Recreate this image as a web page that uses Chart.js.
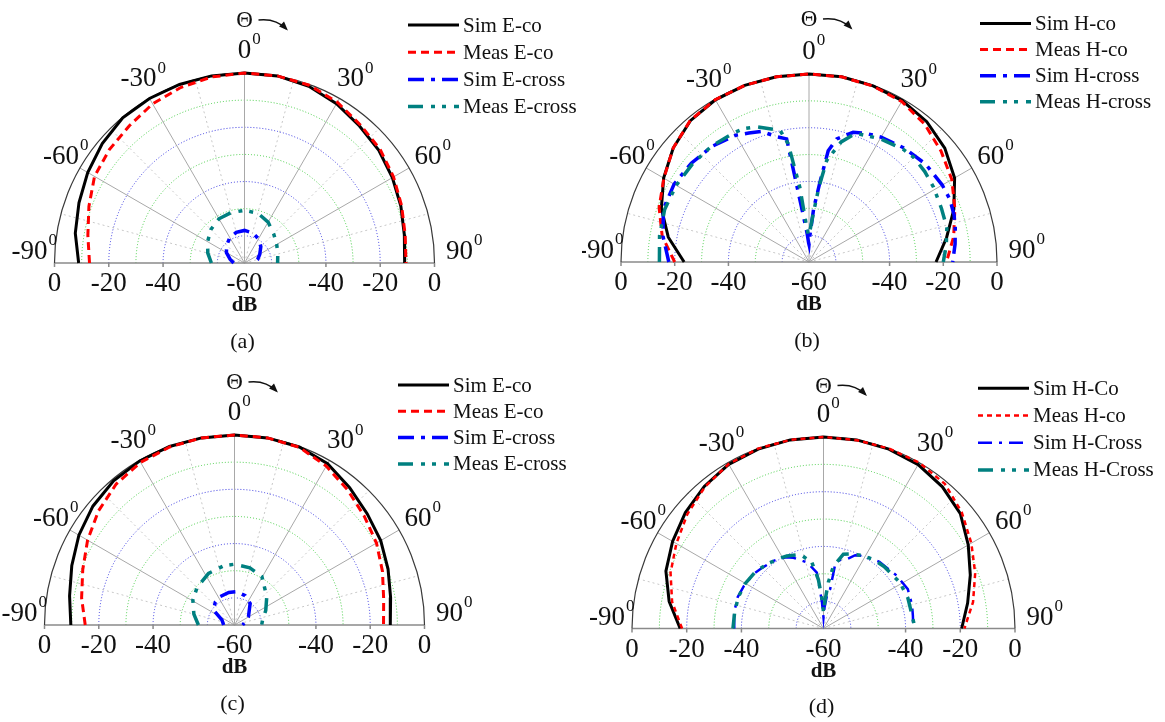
<!DOCTYPE html>
<html>
<head>
<meta charset="utf-8">
<script src="https://cdn.jsdelivr.net/npm/chart.js@4.4.1/dist/chart.umd.min.js"></script>
<style>
html,body{margin:0;padding:0;background:#fff;width:1165px;height:722px;overflow:hidden}
.panel{position:absolute}
canvas{display:block}
</style>
</head>
<body>
<div class="panel" style="left:0px;top:0px"><canvas id="ca"></canvas></div>
<div class="panel" style="left:582px;top:0px"><canvas id="cb"></canvas></div>
<div class="panel" style="left:0px;top:361px"><canvas id="cc"></canvas></div>
<div class="panel" style="left:582px;top:361px"><canvas id="cd"></canvas></div>
<script>
// ---------------- DATA (angle in degrees, level in dB) ----------------
const ANG10 = [-90,-80,-70,-60,-50,-40,-30,-20,-10,0,10,20,30,40,50,60,70,80,90];

// (a) E-plane
const A_SIM_CO  = [-8.9,-6.7,-5.1,-3.3,-1.6,-0.2,0,0,0,0,0,-0.7,-2.2,-4.1,-5.4,-7.1,-8.7,-10.2,-11.0];
const A_MEAS_CO = [-12.9,-11.4,-9.0,-6.2,-5.0,-4.0,-2.3,-1.2,-0.4,0,0,-0.3,-1.6,-3.6,-4.8,-6.6,-8.4,-9.9,-10.5];
const A_X_ANG   = [-90,-75,-60,-45,-30,-15,0,15,30,45,60,75,90];
const A_SIM_X   = [-66,-64.5,-62.3,-60.7,-59.2,-58.3,-58,-58.5,-59.7,-61.5,-63.5,-65,-66.5];
const A_MEAS_X  = [-57.8,-56,-54.3,-52.5,-51.2,-50.8,-50.6,-51,-52.6,-54.8,-56.3,-57.3,-57.8];

// (b) H-plane
const B_SIM_CO  = [-23.5,-16.8,-11.5,-7.5,-4.0,-1.3,-0.3,0,0,0,0,-0.2,-0.6,-1.8,-4.0,-7.4,-12.6,-18.0,-22.7];
const B_MEAS_CO = [-20,-14.5,-10.6,-7.6,-4.0,-1.2,-0.2,0,0,0,0,-0.3,-1.0,-3.0,-5.8,-8.6,-12.2,-15.3,-18.8];
const B_SIM_X_ANG = [-90,-80,-70,-60,-50,-40,-30,-25,-20,-14,-10.3,-9.4,-7,-4,-1,0,2,5,7.8,9.8,12.7,18.8,24,30,40,50,60,66,72,77,83,90];
const B_SIM_X     = [-17.8,-14.8,-12.3,-12.0,-12.8,-13.8,-15.5,-17,-18.3,-22,-23.4,-38,-52.5,-59,-63,-63.5,-60,-50,-40,-28,-23,-19,-17.6,-16.3,-14.7,-13.3,-12.7,-12.6,-13.2,-14.1,-15.2,-16.5];
const B_MEAS_X_ANG = [-90,-80,-70,-60,-50,-40,-30,-26,-21,-12.4,-10,-7,-3.8,-1,0,2,5,7.5,9.9,15,20,30,40,45,52,59,68,76,83,90];
const B_MEAS_X     = [-14.3,-13.5,-12.8,-12.9,-13.3,-13.6,-14.4,-14.7,-16.1,-19.8,-25.3,-42,-57,-60,-60,-58,-52,-42,-31.6,-23.7,-19,-17,-15.3,-14.9,-15.3,-15.9,-16.8,-17.1,-18.5,-20];

// (c) E-plane
const C_SIM_CO  = [-9.7,-8.3,-6.2,-3.8,-1.9,-0.7,-0.2,0,0,0,0,-0.2,-1.4,-4.0,-6.2,-7.8,-9.8,-11.6,-12.6];
const C_MEAS_CO = [-15,-12.8,-10.5,-7.5,-4.6,-2.2,-0.8,-0.2,0,0,0,-0.3,-2.4,-5.1,-7.6,-9.6,-12.0,-14.2,-15.1];
const C_SIM_X_ANG  = [-90,-68,-54.5,-40,-26.8,-10,4,20,36,59,75,90];
const C_SIM_X      = [-66,-65,-60.5,-59,-58.3,-57.8,-57.7,-58.5,-60.2,-64,-66,-67];
const C_MEAS_X_ANG = [-90,-75,-59,-45,-26.7,-10,0,15,29.5,48.8,65,80,90];
const C_MEAS_X     = [-56.7,-54.5,-52.1,-50.5,-48.7,-47.8,-47.6,-48.2,-49.5,-54.2,-57.3,-59.5,-60];

// (d) H-plane
const D_SIM_CO  = [-17.6,-12.7,-8.7,-6.3,-4.1,-2.2,-0.7,-0.2,0,0,0,-0.2,-0.8,-2.4,-4.7,-8.9,-12.9,-16.5,-19.5];
const D_MEAS_CO = [-18.3,-13.8,-10.5,-7.9,-5.0,-2.5,-0.6,0,0,0,-0.1,0,0,-1.0,-4.0,-7.6,-11.0,-14.5,-18.5];
const D_SIM_X_ANG  = [-90,-80,-70,-62,-52,-45,-36,-28,-23,-14,-6.8,-3.5,0,3,6,9.6,10.3,14,18.6,23.4,30,40,54,65,75,82,90];
const D_SIM_X      = [-37.4,-36.8,-36.6,-37,-37.6,-38.5,-39.3,-40.5,-41.9,-45.1,-49.4,-59.9,-66,-62,-58,-55.4,-46.1,-44,-43.3,-40.8,-39.5,-38.2,-37,-36,-36.5,-37,-37.2];
const D_MEAS_X_ANG = [-90,-80,-70,-60,-50,-40,-30,-26.8,-17.4,-10,-6,-3,0,3,6,9,15,20,28,36,45,59,70,76,90];
const D_MEAS_X     = [-36.9,-37,-36.8,-37,-37.6,-38.8,-40,-40.3,-41.6,-45.5,-52,-59,-64,-60,-53,-47,-41.9,-41,-39.8,-38.8,-38.3,-37.4,-37.2,-37.4,-36.5];

// labels
const NAMES_A = ['Sim E-co','Meas E-co','Sim E-cross','Meas E-cross'];
const NAMES_B = ['Sim H-co','Meas H-co','Sim H-cross','Meas H-cross'];
const NAMES_C = ['Sim E-co','Meas E-co','Sim E-cross','Meas E-cross'];
const NAMES_D = ['Sim H-Co','Meas H-co','Sim H-Cross','Meas H-Cross'];
const ANGLE_TICKS = [-90,-60,-30,0,30,60,90];
const DB_TICKS = [0,-20,-40];
const CENTER_LABEL = '-60';
const RINGS = [-10,-20,-30,-40,-50,-60];
const DB_MIN = -70, DB_MAX = 0;
const CAPTIONS = ['(a)','(b)','(c)','(d)'];

// ---------------- STYLES / LAYOUT ----------------
const SERIF = '"Liberation Serif","Times New Roman",serif';
const STY_STD = [
  {color:'#000000', width:3,   dash:[]},
  {color:'#ff0000', width:3,   dash:[8,5]},
  {color:'#0000ff', width:3.5, dash:[16,7,4,7]},
  {color:'#008080', width:3.5, dash:[15,8,4,7,4,8]}
];
const STY_D = [
  {color:'#000000', width:3,   dash:[]},
  {color:'#ff0000', width:2.5, dash:[5,4]},
  {color:'#0000ff', width:2.5, dash:[14,7,3,7]},
  {color:'#008080', width:3.5, dash:[15,8,4,7,4,8]}
];

const PANELS = [
  {id:'ca', left:0,   top:0,   w:582, h:361, cx:244.5, cy:263,   R:190,   cap:CAPTIONS[0], names:NAMES_A, sty:STY_STD,
   legX:408, legY:25,    legDy:27.2,
   series:[[ANG10,A_SIM_CO],[ANG10,A_MEAS_CO],[A_X_ANG,A_SIM_X],[A_X_ANG,A_MEAS_X]]},
  {id:'cb', left:582, top:0,   w:583, h:361, cx:809,   cy:262,   R:188,   cap:CAPTIONS[1], names:NAMES_B, sty:STY_STD,
   legX:980, legY:23.5,  legDy:26.1,
   series:[[ANG10,B_SIM_CO],[ANG10,B_MEAS_CO],[B_SIM_X_ANG,B_SIM_X],[B_MEAS_X_ANG,B_MEAS_X]]},
  {id:'cc', left:0,   top:361, w:582, h:361, cx:234.5, cy:625,   R:190,   cap:CAPTIONS[2], names:NAMES_C, sty:STY_STD,
   legX:398, legY:385,   legDy:26.3,
   series:[[ANG10,C_SIM_CO],[ANG10,C_MEAS_CO],[C_SIM_X_ANG,C_SIM_X],[C_MEAS_X_ANG,C_MEAS_X]]},
  {id:'cd', left:582, top:361, w:583, h:361, cx:823.5, cy:628.5, R:191.5, cap:CAPTIONS[3], names:NAMES_D, sty:STY_D,
   legX:978, legY:388.3, legDy:27.2,
   series:[[ANG10,D_SIM_CO],[ANG10,D_MEAS_CO],[D_SIM_X_ANG,D_SIM_X],[D_MEAS_X_ANG,D_MEAS_X]]}
];

function toXY(angles, levels){
  return angles.map((a,i)=>{
    const r = levels[i] - DB_MIN;
    const t = a*Math.PI/180;
    return {x: r*Math.sin(t), y: r*Math.cos(t)};
  });
}

const decor = {
  id:'decor',
  beforeDatasetsDraw(chart, args, o){
    const ctx = chart.ctx, xs = chart.scales.x, ys = chart.scales.y;
    const cx = xs.getPixelForValue(0), cy = ys.getPixelForValue(0);
    const rad = db => xs.getPixelForValue(db - DB_MIN) - cx;
    const R = rad(DB_MAX);
    ctx.save();
    ctx.lineWidth = 1;
    RINGS.forEach(db=>{
      ctx.beginPath();
      ctx.setLineDash([1,2]);
      ctx.strokeStyle = (db % 20 === 0) ? '#3535e0' : '#44cc44';
      ctx.arc(cx, cy, rad(db), Math.PI, 2*Math.PI);
      ctx.stroke();
    });
    for (let a=-75; a<=75; a+=15){
      const t = a*Math.PI/180;
      ctx.beginPath();
      if (a % 30 === 0){ ctx.setLineDash([]); ctx.strokeStyle='#a8a8a8'; }
      else { ctx.setLineDash([2,3]); ctx.strokeStyle='#c8c8c8'; }
      ctx.moveTo(cx, cy);
      ctx.lineTo(cx + R*Math.sin(t), cy - R*Math.cos(t));
      ctx.stroke();
    }
    ctx.setLineDash([]);
    ctx.strokeStyle = '#8a8a8a';
    ctx.lineWidth = 1.5;
    ctx.beginPath();
    ctx.moveTo(cx - R, cy); ctx.lineTo(cx + R, cy);
    DB_TICKS.forEach(db=>{
      [-1,1].forEach(s=>{ ctx.moveTo(cx + s*rad(db), cy); ctx.lineTo(cx + s*rad(db), cy+4); });
    });
    ctx.stroke();
    ctx.beginPath();
    ctx.lineWidth = 1.2;
    ctx.strokeStyle = '#3a3a3a';
    ctx.arc(cx, cy, R, Math.PI, 2*Math.PI);
    ctx.stroke();
    ctx.restore();
  },
  afterDraw(chart, args, o){
    const ctx = chart.ctx, xs = chart.scales.x, ys = chart.scales.y;
    const cx = xs.getPixelForValue(0), cy = ys.getPixelForValue(0);
    const rad = db => xs.getPixelForValue(db - DB_MIN) - cx;
    const R = rad(DB_MAX);
    ctx.save();
    ctx.fillStyle = '#111';
    ctx.textBaseline = 'middle';
    ANGLE_TICKS.forEach(a=>{
      let x, y;
      if (Math.abs(a) === 90){ x = cx + Math.sign(a)*(R+25); y = cy - 11; }
      else { const t = a*Math.PI/180; x = cx + (R+22)*Math.sin(t); y = cy - (R+22)*Math.cos(t); }
      ctx.font = '27px ' + SERIF;
      const txt = String(a);
      const w = ctx.measureText(txt).width;
      ctx.textAlign = 'center';
      ctx.fillText(txt, x, y);
      ctx.font = '17px ' + SERIF;
      ctx.textAlign = 'left';
      ctx.fillText('0', x + w/2 + 1, y - 11);
    });
    ctx.font = '27px ' + SERIF;
    ctx.textAlign = 'center';
    DB_TICKS.forEach(db=>{
      [-1,1].forEach(s=> ctx.fillText(String(db), cx + s*rad(db), cy + 21));
    });
    ctx.fillText(CENTER_LABEL, cx, cy + 21);
    ctx.font = 'bold 21px ' + SERIF;
    ctx.fillText('dB', cx, cy + 43);
    ctx.font = '22px ' + SERIF;
    ctx.fillText(o.cap, cx - 2, cy + 79);
    // theta + arrow
    ctx.font = '23px ' + SERIF;
    ctx.fillText('\u0398', cx, cy - 242);
    ctx.strokeStyle = '#111';
    ctx.lineWidth = 1.4;
    ctx.beginPath();
    const x0 = cx + 14, y0 = cy - 243, x1 = cx + 42, y1 = cy - 234;
    ctx.moveTo(x0, y0);
    ctx.quadraticCurveTo(cx + 31, y0 - 2, x1, y1);
    ctx.stroke();
    const ang = Math.atan2(y1 - (y0 - 2), x1 - (cx + 31));
    ctx.beginPath();
    ctx.moveTo(x1 + 2*Math.cos(ang), y1 + 2*Math.sin(ang));
    ctx.lineTo(x1 - 7*Math.cos(ang) + 3.5*Math.sin(ang), y1 - 7*Math.sin(ang) - 3.5*Math.cos(ang));
    ctx.lineTo(x1 - 7*Math.cos(ang) - 3.5*Math.sin(ang), y1 - 7*Math.sin(ang) + 3.5*Math.cos(ang));
    ctx.closePath();
    ctx.fill();
    // legend
    ctx.textAlign = 'left';
    ctx.font = '21px ' + SERIF;
    chart.data.datasets.forEach((ds, i)=>{
      const y = o.legY + i*o.legDy;
      ctx.beginPath();
      ctx.strokeStyle = ds.borderColor;
      ctx.lineWidth = ds.borderWidth;
      ctx.setLineDash(ds.borderDash || []);
      ctx.moveTo(o.legX, y); ctx.lineTo(o.legX + 51, y);
      ctx.stroke();
      ctx.setLineDash([]);
      ctx.fillStyle = '#111';
      ctx.fillText(ds.label, o.legX + 55, y + 1);
    });
    ctx.restore();
  }
};

PANELS.forEach(p=>{
  const cv = document.getElementById(p.id);
  cv.width = p.w; cv.height = p.h;
  cv.style.width = p.w + 'px'; cv.style.height = p.h + 'px';
  const pad = {
    left: p.cx - p.R - p.left,
    right: (p.left + p.w) - (p.cx + p.R),
    top: p.cy - p.R - p.top,
    bottom: (p.top + p.h) - p.cy
  };
  new Chart(cv, {
    type:'scatter',
    data:{
      datasets: p.series.map((s,i)=>({
        label: p.names[i],
        data: toXY(s[0], s[1]),
        showLine: true,
        borderColor: p.sty[i].color,
        backgroundColor: p.sty[i].color,
        borderWidth: p.sty[i].width,
        borderDash: p.sty[i].dash,
        pointRadius: 0,
        tension: 0,
        fill: false,
        clip: false,
        order: 4 - i
      }))
    },
    options:{
      responsive:false,
      animation:false,
      events:[],
      layout:{padding: pad},
      scales:{
        x:{type:'linear', min:DB_MIN, max:-DB_MIN, display:false},
        y:{type:'linear', min:0, max:-DB_MIN, display:false}
      },
      plugins:{
        legend:{display:false},
        tooltip:{enabled:false},
        decor:{cap:p.cap, legX:p.legX - p.left, legY:p.legY - p.top, legDy:p.legDy}
      }
    },
    plugins:[decor]
  });
});
</script>
</body>
</html>
